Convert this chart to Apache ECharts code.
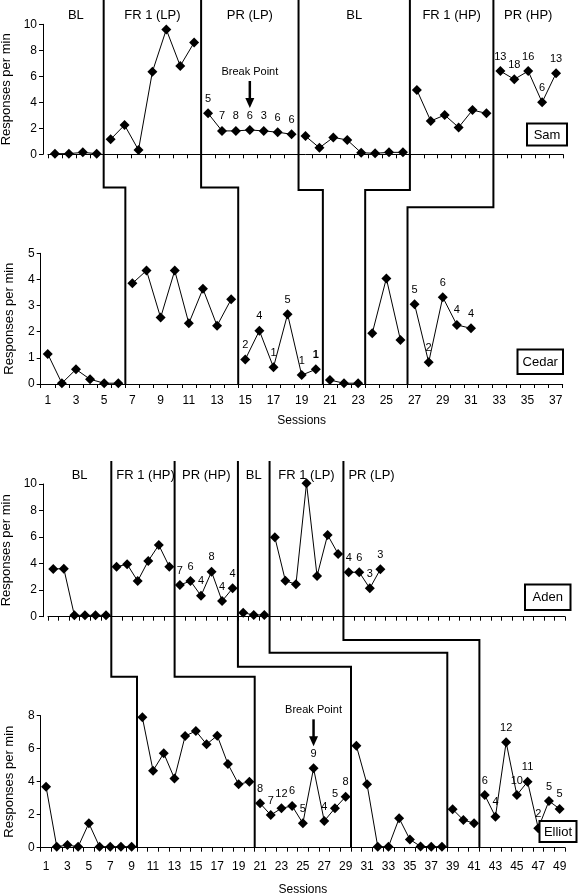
<!DOCTYPE html>
<html><head><meta charset="utf-8">
<script src="https://cdn.jsdelivr.net/npm/echarts@6/dist/echarts.min.js"></script>
<style>html,body{margin:0;padding:0;background:#fff}#c{width:578px;height:895px}</style>
</head><body><div id="c"></div>
<script>
const topSessions = [1,2,3,4,5,6,7,8,9,10,11,12,13,14,15,16,17,18,19,20,21,22,23,24,25,26,27,28,29,30,31,32,33,34,35,36,37];
const bottomSessions = [1,2,3,4,5,6,7,8,9,10,11,12,13,14,15,16,17,18,19,20,21,22,23,24,25,26,27,28,29,30,31,32,33,34,35,36,37,38,39,40,41,42,43,44,45,46,47,48,49];

const topPhaseNames = ['BL','FR 1 (LP)','PR (LP)','BL','FR 1 (HP)','PR (HP)'];
const bottomPhaseNames = ['BL','FR 1 (HP)','PR (HP)','BL','FR 1 (LP)','PR (LP)'];

const samPhaseLengths = [4,7,7,8,6,5];
const samValues = [0.05,0.05,0.15,0.05, 1.15,2.25,0.33,6.35,9.6,6.8,8.6, 3.15,1.8,1.8,1.87,1.8,1.7,1.54, 1.4,0.5,1.3,1.1,0.12,0.08,0.15,0.15, 4.95,2.56,3.02,2.07,3.4,3.15, 6.4,5.77,6.4,4.0,6.23];
const samLabels = {12:'5',13:'7',14:'8',15:'6',16:'3',17:'6',18:'6',33:'13',34:'18',35:'16',36:'6',37:'13'};

const cedarPhaseLengths = [6,8,6,3,3,5];
const cedarValues = [1.15,0.03,0.56,0.18,0.03,0.03, 3.85,4.34,2.54,4.34,2.32,3.64,2.23,3.24, 0.94,2.04,0.64,2.67,0.34,0.56, 0.15,0.03,0.03, 1.94,4.04,1.68, 3.05,0.83,3.32,2.26,2.13];
const cedarLabels = {15:'2',16:'4',17:'1',18:'5',19:'1',20:'1',27:'5',28:'2',29:'6',30:'4',31:'4'};

const adenPhaseLengths = [6,6,6,3,7,4];
const adenValues = [3.6,3.62,0.1,0.1,0.1,0.1, 3.77,3.95,2.69,4.2,5.4,3.77, 2.39,2.69,1.58,3.39,1.18,2.14, 0.3,0.13,0.13, 5.98,2.71,2.44,10.05,3.07,6.16,4.73, 3.35,3.35,2.14,3.57];
const adenLabels = {13:'7',14:'6',15:'4',16:'8',17:'4',18:'4',29:'4',30:'6',31:'3',32:'3'};

const elliotPhaseLengths = [9,11,9,9,3,8];
const elliotValues = [3.7,0.06,0.16,0.06,1.48,0.06,0.06,0.06,0.06, 7.9,4.67,5.72,4.2,6.77,7.07,6.27,6.79,5.07,3.84,4.0, 2.69,1.98,2.39,2.53,1.48,4.81,1.62,2.39,3.09, 6.18,3.84,0.06,0.06,1.78,0.5,0.08,0.06,0.06, 2.33,1.68,1.48, 3.19,1.88,6.39,3.19,4.0,1.18,2.83,2.35];
const elliotLabels = {21:'8',22:'7',23:'12',24:'6',25:'5',26:'9',27:'4',28:'5',29:'8',42:'6',43:'4',44:'12',45:'10',46:'11',47:'2',48:'5',49:'5'};

const yTicksTop = [0,2,4,6,8,10];
const yTicksCedar = [0,1,2,3,4,5];
const yTicksElliot = [0,2,4,6,8];

const samBreakPoint = 15;
const elliotBreakPoint = 26;

const FONT = "'Liberation Sans', Arial, sans-serif";
const chart = echarts.init(document.getElementById('c'), null, {renderer:'canvas'});

const panels = [
  {name:'Sam', values:samValues, phases:samPhaseLengths, labels:samLabels, cats:topSessions, yt:yTicksTop, offset:5, showX:false},
  {name:'Cedar', values:cedarValues, phases:cedarPhaseLengths, labels:cedarLabels, cats:topSessions, yt:yTicksCedar, offset:0, showX:true, nameGap:31, lm:11},
  {name:'Aden', values:adenValues, phases:adenPhaseLengths, labels:adenLabels, cats:bottomSessions, yt:yTicksTop, offset:5, showX:false},
  {name:'Elliot', values:elliotValues, phases:elliotPhaseLengths, labels:elliotLabels, cats:bottomSessions, yt:yTicksElliot, offset:0, showX:true, nameGap:36, lm:13}
];

const grids = [
  {left:48, top:24.3, width:515, height:130},
  {left:40.7, top:253.3, width:522, height:130.7},
  {left:48, top:484, width:517, height:132.7},
  {left:40.7, top:715.7, width:524.3, height:132}
];

const black = '#000';
const xAxes = panels.map((p,i)=>({
  type:'category', gridIndex:i, data:p.cats.map(String), boundaryGap:true,
  axisLine:{show:true, lineStyle:{color:black, width:1}},
  axisTick:{show:true, interval:0, length:4, lineStyle:{color:black}},
  axisLabel:{show:p.showX, interval:1, color:black, fontFamily:FONT, fontSize:12, margin:p.lm||8},
  name:p.showX?'Sessions':'', nameLocation:'middle', nameGap:p.nameGap||20,
  nameTextStyle:{color:black, fontFamily:FONT, fontSize:12},
  splitLine:{show:false}
}));
const yAxes = panels.map((p,i)=>{
  const mx = p.yt[p.yt.length-1];
  return {
    type:'value', gridIndex:i, min:p.yt[0], max:mx, interval:p.yt[1]-p.yt[0], offset:p.offset,
    axisLine:{show:true, lineStyle:{color:black, width:1}},
    axisTick:{show:true, length:4, lineStyle:{color:black}},
    axisLabel:{color:black, fontFamily:FONT, fontSize:12, margin:6},
    splitLine:{show:false},
    name:'Responses per min', nameLocation:'middle', nameGap:25, nameRotate:90,
    nameTextStyle:{color:black, fontFamily:FONT, fontSize:13}
  };
});

const series = [];
panels.forEach((p,gi)=>{
  let s = 0;
  p.phases.forEach(L=>{
    const data = [];
    for (let k=0;k<L;k++){
      const idx = s+k;
      const lbl = p.labels[idx+1] || '';
      const item = {value:[idx, p.values[idx]], lbl:lbl};
      if (p.name==='Cedar' && idx+1===20) item.label = {fontWeight:'bold'};
      data.push(item);
    }
    series.push({
      type:'line', xAxisIndex:gi, yAxisIndex:gi, data:data, clip:false,
      showSymbol:true, showAllSymbol:true,
      symbol:'diamond', symbolSize:10, itemStyle:{color:black},
      lineStyle:{color:black, width:1}, silent:true, animation:false,
      labelLayout:{hideOverlap:false},
      label:{show:true, position:'top', distance:4, color:black, fontFamily:FONT, fontSize:11,
        formatter:(prm)=>prm.data.lbl}
    });
    s += L;
  });
});

chart.setOption({
  animation:false,
  grid:grids.map(g=>Object.assign({outerBoundsMode:'none'}, g)),
  xAxis:xAxes, yAxis:yAxes, series:series
});

function px(gi, idx, val){ return chart.convertToPixel({gridIndex:gi}, [idx, val]); }
function boundaryX(gi, idx){ return (px(gi, idx-1, 0)[0] + px(gi, idx, 0)[0]) / 2; }
const measureCtx = document.createElement('canvas').getContext('2d');
function textW(t, font){ measureCtx.font = font; return measureCtx.measureText(t).width; }

const graphics = [];
const pairs = [
  {up:0, lo:1, topY:0, conn:[187.5,187.5,190,190,207.3]},
  {up:2, lo:3, topY:461, conn:[676.7,676.7,666.7,652.7,640]}
];
pairs.forEach(pr=>{
  let cu = 0, cl = 0;
  const lowAxisY = px(pr.lo, 0, 0)[1];
  for (let i=0;i<5;i++){
    cu += panels[pr.up].phases[i];
    cl += panels[pr.lo].phases[i];
    const xu = boundaryX(pr.up, cu), xl = boundaryX(pr.lo, cl);
    graphics.push({type:'polyline', z:20, silent:true,
      shape:{points:[[xu, pr.topY],[xu, pr.conn[i]],[xl, pr.conn[i]],[xl, lowAxisY]]},
      style:{stroke:black, lineWidth:2, fill:null}});
  }
});
[[0, topPhaseNames],[2, bottomPhaseNames]].forEach(([gi, names])=>{
  let s = 0;
  const topY = grids[gi].top - 9;
  const font = '13px '+FONT;
  panels[gi].phases.forEach((L,i)=>{
    let x = (px(gi, s, 0)[0] + px(gi, s+L-1, 0)[0]) / 2;
    if (s > 0) {
      const leftB = boundaryX(gi, s);
      x = Math.max(x, leftB + textW(names[i], font)/2 + 5);
    }
    graphics.push({type:'text', z:20, silent:true, x:x, y:topY,
      style:{text:names[i], fill:black, font:font, align:'center', verticalAlign:'middle'}});
    s += L;
  });
});
[[0, samBreakPoint, samValues],[3, elliotBreakPoint, elliotValues]].forEach(([gi, sess, vals])=>{
  const p = px(gi, sess-1, vals[sess-1]);
  const tip = p[1] - 22;
  graphics.push({type:'line', z:20, silent:true, shape:{x1:p[0], y1:tip-27, x2:p[0], y2:tip-8}, style:{stroke:black, lineWidth:2.5}});
  graphics.push({type:'polygon', z:20, silent:true, shape:{points:[[p[0]-4.5, tip-10],[p[0]+4.5, tip-10],[p[0], tip]]}, style:{fill:black}});
  graphics.push({type:'text', z:20, silent:true, x:p[0], y:tip-36,
    style:{text:'Break Point', fill:black, font:'11px '+FONT, align:'center', verticalAlign:'middle'}});
});
const boxes = [
  {t:'Sam', x:527, y:123.5, w:40, h:22},
  {t:'Cedar', x:517.5, y:349.5, w:45.5, h:24.5},
  {t:'Aden', x:525, y:584.5, w:45.5, h:25.5},
  {t:'Elliot', x:539.5, y:821, w:37, h:21}
];
boxes.forEach(b=>{
  graphics.push({type:'rect', z:30, silent:true, shape:{x:b.x, y:b.y, width:b.w, height:b.h}, style:{fill:'#fff', stroke:black, lineWidth:2}});
  graphics.push({type:'text', z:31, silent:true, x:b.x+b.w/2, y:b.y+b.h/2+0.5,
    style:{text:b.t, fill:black, font:'13px '+FONT, align:'center', verticalAlign:'middle'}});
});

chart.setOption({graphic:graphics});
</script>
</body></html>
